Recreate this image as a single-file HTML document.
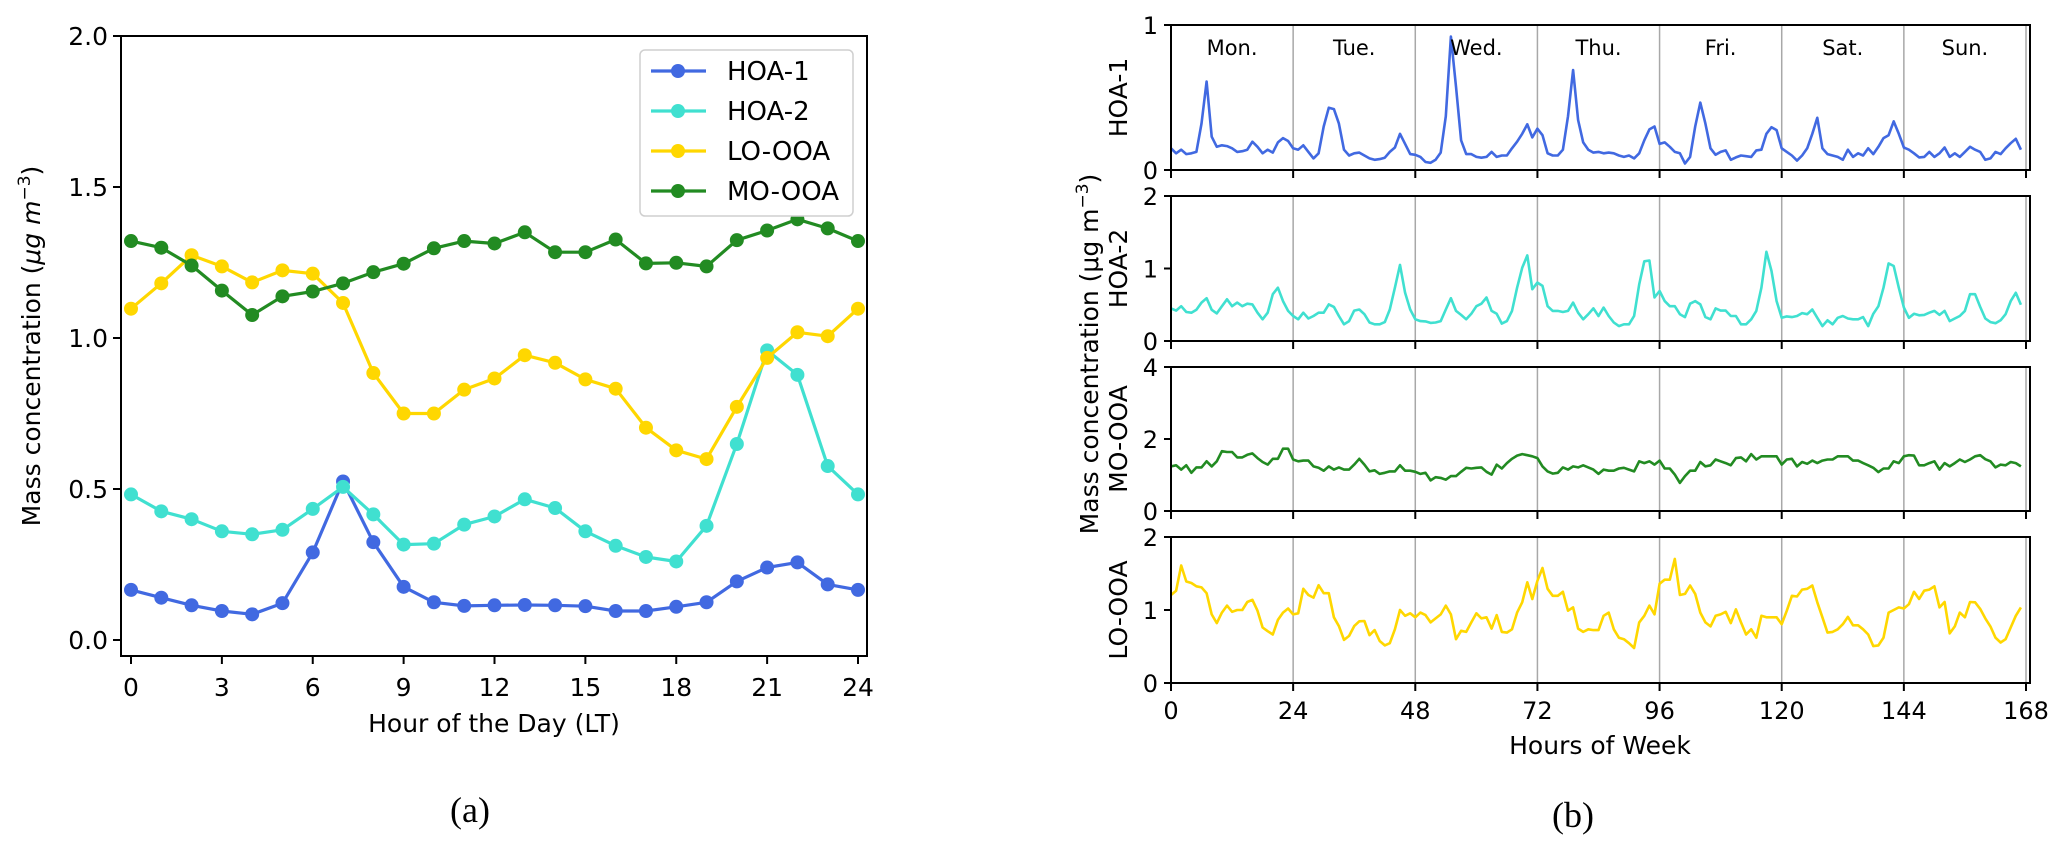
<!DOCTYPE html>
<html><head><meta charset="utf-8"><style>
html,body{margin:0;padding:0;background:#fff;}
svg{display:block;font-family:"DejaVu Sans","Liberation Sans",sans-serif;}
</style></head><body>
<svg id="fig" width="2067" height="855" viewBox="0 0 2067 855" xmlns="http://www.w3.org/2000/svg">
<g id="pa"></g>
<g id="pb"></g>
<text x="470" y="822" font-family="Liberation Serif, serif" font-size="36" text-anchor="middle">(a)</text>
<text x="1573" y="827" font-family="Liberation Serif, serif" font-size="36" text-anchor="middle">(b)</text>
</svg>
<script>
const hours = [0,1,2,3,4,5,6,7,8,9,10,11,12,13,14,15,16,17,18,19,20,21,22,23,24];
const diurnalHOA1 = [.166,.14,.115,.096,.085,.122,.29,.525,.324,.176,.125,.113,.115,.116,.115,.112,.096,.096,.11,.125,.194,.24,.257,.184,.166];
const diurnalHOA2 = [.482,.426,.4,.36,.35,.365,.434,.507,.416,.316,.319,.382,.409,.466,.437,.36,.312,.275,.26,.378,.649,.959,.878,.576,.482];
const diurnalLOOOA = [1.097,1.181,1.274,1.237,1.184,1.224,1.213,1.116,.884,.75,.75,.829,.866,.943,.918,.863,.832,.703,.628,.599,.772,.934,1.019,1.006,1.097];
const diurnalMOOOA = [1.321,1.299,1.24,1.157,1.076,1.138,1.154,1.181,1.218,1.246,1.297,1.321,1.313,1.35,1.284,1.284,1.326,1.247,1.249,1.237,1.324,1.356,1.393,1.363,1.321];
const seriesNames = ["HOA-1","HOA-2","LO-OOA","MO-OOA"];
const aYTicks = [0,0.5,1.0,1.5,2.0];
const aXTicks = [0,3,6,9,12,15,18,21,24];

const weekHOA1 = [.15,.115,.14,.11,.115,.125,.32,.61,.23,.16,.17,.165,.15,.125,.13,.14,.195,.16,.115,.14,.12,.19,.22,.2,
.15,.14,.17,.125,.08,.115,.3,.43,.42,.32,.14,.1,.115,.12,.1,.08,.07,.075,.085,.125,.155,.25,.18,.11,
.105,.09,.055,.05,.07,.12,.37,.92,.575,.205,.11,.11,.09,.085,.09,.125,.09,.1,.1,.15,.195,.25,.315,.225,
.285,.24,.115,.1,.1,.14,.37,.69,.345,.19,.14,.12,.125,.115,.12,.115,.1,.09,.1,.08,.115,.205,.28,.3,
.18,.19,.16,.125,.115,.045,.09,.3,.465,.32,.15,.105,.125,.135,.07,.087,.1,.095,.09,.135,.14,.25,.295,.275,
.15,.125,.1,.065,.1,.15,.25,.36,.15,.11,.1,.09,.07,.14,.09,.115,.1,.15,.11,.16,.22,.24,.335,.25,
.155,.14,.115,.087,.09,.125,.09,.115,.155,.09,.115,.09,.125,.16,.14,.125,.07,.08,.125,.11,.15,.185,.215,.14];
const weekHOA2 = [.45,.42,.48,.40,.39,.43,.53,.59,.43,.38,.48,.575,.48,.53,.48,.515,.505,.39,.30,.39,.645,.735,.55,.415,
.345,.30,.39,.31,.345,.39,.39,.505,.47,.345,.23,.275,.42,.435,.37,.255,.23,.23,.26,.435,.735,1.05,.665,.435,
.30,.275,.27,.25,.255,.275,.435,.59,.415,.36,.30,.375,.48,.515,.60,.415,.375,.24,.275,.415,.735,1.01,1.18,.715,
.805,.76,.48,.415,.415,.40,.415,.53,.39,.30,.37,.45,.345,.46,.345,.255,.205,.23,.23,.345,.78,1.1,1.11,.60,
.69,.55,.48,.48,.37,.33,.515,.55,.505,.33,.30,.45,.42,.42,.345,.345,.23,.23,.30,.415,.735,1.23,.965,.55,
.32,.34,.33,.345,.385,.37,.435,.32,.205,.285,.23,.32,.345,.31,.30,.30,.33,.205,.375,.48,.735,1.07,1.035,.735,
.46,.32,.375,.355,.36,.39,.415,.36,.415,.275,.31,.345,.415,.645,.645,.47,.31,.26,.245,.285,.37,.55,.665,.50];
const weekMOOOA = [1.24,1.27,1.15,1.27,1.06,1.21,1.21,1.38,1.24,1.38,1.66,1.64,1.64,1.49,1.49,1.56,1.6,1.47,1.36,1.29,1.45,1.45,1.73,1.73,
1.43,1.38,1.40,1.40,1.24,1.2,1.12,1.24,1.15,1.21,1.15,1.15,1.29,1.45,1.29,1.1,1.13,1.03,1.06,1.1,1.1,1.27,1.12,1.12,
1.09,1.03,1.06,.85,.94,.92,.87,.97,.97,1.09,1.2,1.18,1.2,1.21,1.09,1.01,1.29,1.18,1.33,1.45,1.54,1.58,1.55,1.52,
1.47,1.24,1.1,1.04,1.06,1.21,1.15,1.24,1.21,1.27,1.21,1.15,1.03,1.15,1.12,1.12,1.18,1.2,1.15,1.1,1.38,1.33,1.38,1.29,
1.40,1.18,1.18,1.01,.78,.97,1.12,1.12,1.36,1.24,1.27,1.43,1.38,1.33,1.27,1.47,1.49,1.38,1.58,1.43,1.52,1.52,1.52,1.52,
1.29,1.43,1.45,1.24,1.36,1.31,1.40,1.33,1.40,1.43,1.43,1.52,1.52,1.52,1.40,1.40,1.33,1.27,1.2,1.08,1.18,1.18,1.38,1.33,
1.52,1.55,1.54,1.27,1.27,1.33,1.38,1.15,1.33,1.24,1.33,1.43,1.36,1.43,1.52,1.55,1.44,1.38,1.21,1.29,1.27,1.36,1.33,1.24];
const weekLOOOA = [1.205,1.265,1.61,1.39,1.37,1.325,1.31,1.23,.94,.82,.965,1.06,.975,1.0,1.0,1.11,1.14,.99,.76,.71,.665,.865,.965,1.02,
.94,.955,1.29,1.205,1.17,1.34,1.23,1.23,.9,.78,.59,.645,.78,.845,.85,.655,.725,.575,.515,.545,.735,1.0,.92,.955,
.9,.965,.93,.83,.885,.94,1.06,.94,.6,.715,.7,.83,.955,.885,.9,.745,.93,.7,.69,.735,.965,1.105,1.38,1.15,
1.4,1.575,1.29,1.195,1.195,1.25,.99,1.035,.745,.70,.735,.725,.725,.92,.965,.735,.62,.6,.545,.48,.83,.92,1.06,.94,
1.36,1.415,1.415,1.7,1.205,1.22,1.335,1.22,.965,.83,.775,.92,.94,.975,.82,1.01,.83,.665,.735,.62,.92,.9,.9,.9,
.805,.99,1.195,1.185,1.28,1.29,1.335,1.105,.9,.69,.70,.735,.805,.905,.79,.79,.735,.665,.505,.515,.62,.965,1.0,1.035,
1.02,1.08,1.25,1.15,1.265,1.28,1.325,1.035,1.11,.68,.775,.965,.9,1.11,1.105,1.015,.885,.775,.62,.555,.6,.76,.92,1.035];
const dayNames = ["Mon.","Tue.","Wed.","Thu.","Fri.","Sat.","Sun."];
const bXTicks = [0,24,48,72,96,120,144,168];
const panelNames = ["HOA-1","HOA-2","MO-OOA","LO-OOA"];
const panelYTicks = [[0,1],[0,1,2],[0,2,4],[0,1,2]];

const NS="http://www.w3.org/2000/svg";
function mk(parent,tag,attrs,text){const e=document.createElementNS(NS,tag);for(const k in attrs)e.setAttribute(k,attrs[k]);if(text!==undefined)e.textContent=text;parent.appendChild(e);return e;}
const colors={"HOA-1":"#4169e1","HOA-2":"#40e0d0","LO-OOA":"#ffd700","MO-OOA":"#228b22"};

// ---- Panel (a)
const pa=document.getElementById('pa');
const aL=121,aR=867,aT=36,aB=656;
const ax=h=>131+(858-131)*h/24;
const ay=v=>640-(640-36)*v/2;
const diurnal={"HOA-1":diurnalHOA1,"HOA-2":diurnalHOA2,"LO-OOA":diurnalLOOOA,"MO-OOA":diurnalMOOOA};
seriesNames.forEach(n=>{
  const g=mk(pa,'g',{});
  
  
  const pts=diurnal[n].map((v,i)=>ax(hours[i]).toFixed(1)+','+ay(v).toFixed(1)).join(' ');
  const pl=mk(g,'polyline',{points:pts,fill:'none',stroke:colors[n],'stroke-width':3.2,'stroke-linejoin':'round'});
  
  
  diurnal[n].forEach((v,i)=>{
    const c=mk(g,'circle',{cx:ax(hours[i]),cy:ay(v),r:7,fill:colors[n]});
    
    
  });
});
const fa=mk(pa,'rect',{x:aL,y:aT,width:aR-aL,height:aB-aT,fill:'none',stroke:'#000','stroke-width':2});


aYTicks.forEach(t=>{
  mk(pa,'line',{x1:aL-8,x2:aL,y1:ay(t),y2:ay(t),stroke:'#000','stroke-width':2});
  const tx=mk(pa,'text',{x:aL-13,y:ay(t)+9,'font-size':25,'text-anchor':'end'},t.toFixed(1));
  
  
});
aXTicks.forEach(t=>{
  mk(pa,'line',{x1:ax(t),x2:ax(t),y1:aB,y2:aB+8,stroke:'#000','stroke-width':2});
  const tx=mk(pa,'text',{x:ax(t),y:696,'font-size':25,'text-anchor':'middle'},String(t));
  
  
});
const xl=mk(pa,'text',{x:494,y:732,'font-size':25,'text-anchor':'middle'},'Hour of the Day (LT)');


const yl=mk(pa,'text',{transform:'translate(40,346) rotate(-90)','font-size':25,'text-anchor':'middle'});
yl.innerHTML='Mass concentration (<tspan font-style="italic">μg m</tspan><tspan font-size="17" dy="-10">−3</tspan><tspan dy="10">)</tspan>';


const lg=mk(pa,'g',{});


mk(lg,'rect',{x:640,y:50,width:213,height:166,rx:5,fill:'#fff',stroke:'#cfcfcf','stroke-width':1.5});
seriesNames.forEach((n,i)=>{
  const yy=71+i*40;
  const e=mk(lg,'g',{});
  
  
  mk(e,'line',{x1:651,x2:706,y1:yy,y2:yy,stroke:colors[n],'stroke-width':3.2});
  mk(e,'circle',{cx:678,cy:yy,r:7,fill:colors[n]});
  mk(e,'text',{x:727,y:yy+9,'font-size':26},n);
});

// ---- Panel (b)
const pb=document.getElementById('pb');
const bL=1171,bR=2030,x168=2026;
const bx=h=>bL+(x168-bL)*h/168;
const panels=[[25,170],[196,341],[367,511],[537,683]];
const weekData=[weekHOA1,weekHOA2,weekMOOOA,weekLOOOA];
const wColors=[colors["HOA-1"],colors["HOA-2"],colors["MO-OOA"],colors["LO-OOA"]];
panels.forEach((p,pi)=>{
  const [T,B]=p;
  const ticks=panelYTicks[pi];
  const ymax=ticks[ticks.length-1];
  const by=v=>B-(B-T)*v/ymax;
  const g=mk(pb,'g',{});
  
  
  bXTicks.slice(1).forEach(t=>{
    const gl=mk(g,'line',{x1:bx(t),x2:bx(t),y1:T,y2:B,stroke:'#a8a8a8','stroke-width':1.5});
    
    
  });
  const pts=weekData[pi].map((v,i)=>bx(i).toFixed(1)+','+by(v).toFixed(1)).join(' ');
  const pl=mk(g,'polyline',{points:pts,fill:'none',stroke:wColors[pi],'stroke-width':2.6,'stroke-linejoin':'round'});
  
  
  const fr=mk(g,'rect',{x:bL,y:T,width:bR-bL,height:B-T,fill:'none',stroke:'#000','stroke-width':2});
  
  
  ticks.forEach(t=>{
    mk(g,'line',{x1:bL-7,x2:bL,y1:by(t),y2:by(t),stroke:'#000','stroke-width':2});
    const tx=mk(g,'text',{x:bL-13,y:by(t)+9,'font-size':24,'text-anchor':'end'},String(t));
    
    
  });
  bXTicks.forEach(t=>{
    mk(g,'line',{x1:bx(t),x2:bx(t),y1:B,y2:B+8,stroke:'#000','stroke-width':2});
  });
  const pn=mk(g,'text',{transform:'translate('+1127+','+((T+B)/2)+') rotate(-90)','font-size':25,'text-anchor':'middle'},panelNames[pi]);
  
  
});
dayNames.forEach((d,i)=>{
  const t=mk(pb,'text',{x:bx(12+24*i),y:55,'font-size':21,'text-anchor':'middle'},d);
  
  
});
bXTicks.forEach(t=>{
  const tx=mk(pb,'text',{x:bx(t),y:719,'font-size':24,'text-anchor':'middle'},String(t));
  
  
});
const bxl=mk(pb,'text',{x:1600,y:754,'font-size':25,'text-anchor':'middle'},'Hours of Week');


const byl=mk(pb,'text',{transform:'translate(1098,354) rotate(-90)','font-size':25,'text-anchor':'middle'});
byl.innerHTML='Mass concentration (μg m<tspan font-size="17" dy="-10">−3</tspan><tspan dy="10">)</tspan>';


</script>
</body></html>
